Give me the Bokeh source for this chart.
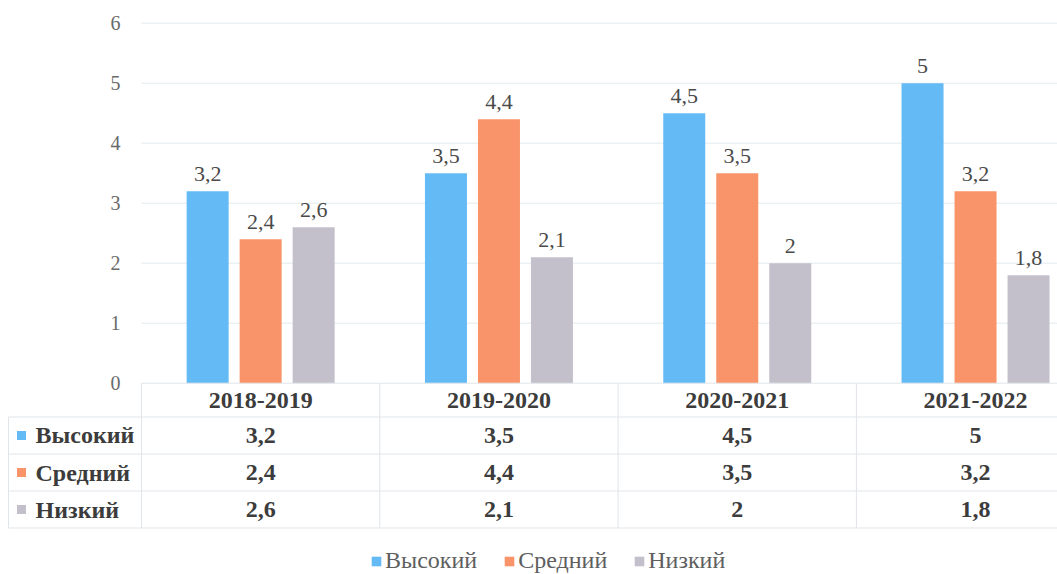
from bokeh.plotting import figure
from bokeh.models import Range1d, Legend, LegendItem
from bokeh.core.properties import value
from bokeh.embed import file_html
from bokeh.resources import INLINE

# ---------------- data ----------------
years = ["2018-2019", "2019-2020", "2020-2021", "2021-2022"]
series = ["Высокий", "Средний", "Низкий"]
high = [3.2, 3.5, 4.5, 5]
mid = [2.4, 4.4, 3.5, 3.2]
low = [2.6, 2.1, 2, 1.8]
y_ticks = [0, 1, 2, 3, 4, 5, 6]

values = [high, mid, low]
colors = ["#63BAF5", "#F9946A", "#C3C0CB"]


def fmt(v):
    return f"{v:g}".replace(".", ",")


# ---------------- layout constants ----------------
W, H = 1057, 574
CAT_PX = 238.3            # pixel width of one category
X0 = 141                  # px of category 0 left edge inside figure
PX_PER_Y = 60.0
Y0 = 382.7                # px of value 0 from figure top

x_start = -X0 / CAT_PX
x_end = (W - X0) / CAT_PX
y_end = Y0 / PX_PER_Y
y_start = -(H - Y0) / PX_PER_Y

BAR_W = 42 / CAT_PX
OFFS = [-53 / CAT_PX, 0, 53 / CAT_PX]

FONT = "'Liberation Serif', 'Times New Roman', serif"
GRID_COL = "#E3EAEE"
TABLE_COL = "#E0E5E9"

p = figure(width=W, height=H,
           x_range=Range1d(x_start, x_end), y_range=Range1d(y_start, y_end),
           output_backend="svg", toolbar_location=None,
           x_axis_location=None, y_axis_location=None,
           min_border=0, outline_line_color=None,
           background_fill_color="white", border_fill_color="white")
p.grid.visible = False

# gridlines (1..6)
gl = [t for t in y_ticks if t > 0]
p.segment(x0=[0] * len(gl), y0=gl, x1=[x_end] * len(gl), y1=gl,
          line_color=GRID_COL, line_width=1)

# y tick labels
p.text(x=[(120 - X0) / CAT_PX] * len(y_ticks), y=y_ticks,
       text=[str(t) for t in y_ticks],
       text_align="right", text_baseline="middle",
       text_font=value(FONT), text_font_size="20px", text_color="#6A6A6A")

# bars + labels
renderers = []
for k, (vals, col) in enumerate(zip(values, colors)):
    xs = [i + 0.5 + OFFS[k] for i in range(len(years))]
    r = p.vbar(x=xs, top=vals, bottom=0, width=BAR_W,
               fill_color=col, line_color=None)
    renderers.append(r)
    p.text(x=xs, y=vals, text=[fmt(v) for v in vals],
           text_align="center", text_baseline="alphabetic", y_offset=-17,
           text_font=value(FONT), text_font_size="22px", text_color="#4A4A4A")

# ---------------- data table ----------------
ROW_EDGES = [0, -0.563, -1.18, -1.797, -2.413]
left = (8 - X0) / CAT_PX
# horizontal lines
p.segment(x0=[0], y0=[0], x1=[x_end], y1=[0], line_color=TABLE_COL, line_width=1)
p.segment(x0=[left] * 4, y0=ROW_EDGES[1:], x1=[x_end] * 4, y1=ROW_EDGES[1:],
          line_color=TABLE_COL, line_width=1)
# vertical lines
p.segment(x0=[left], y0=[ROW_EDGES[1]], x1=[left], y1=[ROW_EDGES[-1]],
          line_color=TABLE_COL, line_width=1)
p.segment(x0=list(range(len(years))), y0=[0] * len(years),
          x1=list(range(len(years))), y1=[ROW_EDGES[-1]] * len(years),
          line_color=TABLE_COL, line_width=1)

# header
p.text(x=[i + 0.5 for i in range(len(years))],
       y=[(ROW_EDGES[0] + ROW_EDGES[1]) / 2] * len(years), text=years,
       text_align="center", text_baseline="middle",
       text_font=value(FONT), text_font_style="bold", text_font_size="24px",
       text_color="#3C3C3C")

for r_i, (name, vals, col) in enumerate(zip(series, values, colors)):
    yc = (ROW_EDGES[r_i + 1] + ROW_EDGES[r_i + 2]) / 2
    p.text(x=[i + 0.5 for i in range(len(years))], y=[yc] * len(years),
           text=[fmt(v) for v in vals],
           text_align="center", text_baseline="middle",
           text_font=value(FONT), text_font_style="bold", text_font_size="24px",
           text_color="#3C3C3C")
    p.scatter(x=[(21 - X0) / CAT_PX], y=[yc], marker="square", size=9,
              fill_color=col, line_color=None)
    p.text(x=[(35 - X0) / CAT_PX], y=[yc], text=[name],
           text_align="left", text_baseline="middle",
           text_font=value(FONT), text_font_style="bold", text_font_size="24px",
           text_color="#3C3C3C")

# ---------------- legend ----------------
legend = Legend(items=[LegendItem(label=s, renderers=[r]) for s, r in zip(series, renderers)],
                orientation="horizontal", location=(370, 0),
                glyph_width=12, glyph_height=12, label_standoff=3, spacing=26,
                padding=0, margin=0, border_line_color=None,
                background_fill_alpha=0,
                label_text_font=FONT, label_text_font_size="24px",
                label_text_color="#5E5E5E")
p.add_layout(legend)

open("out.html", "w").write(file_html(p, INLINE))
